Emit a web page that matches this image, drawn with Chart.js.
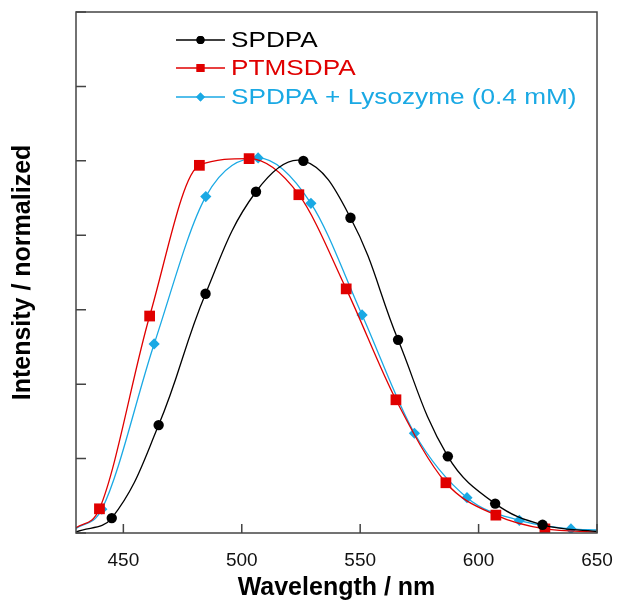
<!DOCTYPE html>
<html>
<head>
<meta charset="utf-8">
<script src="https://cdn.jsdelivr.net/npm/chart.js@4.4.1/dist/chart.umd.min.js"></script>
<style>
  html, body { margin: 0; padding: 0; background: #fff; }
  #wrap { width: 619px; height: 606px; }
</style>
</head>
<body>
<div id="wrap"><canvas id="myChart" width="619" height="606"></canvas></div>
<script>
/* data (first and last point = curve at the plot edges) */
var spdpaX = [430, 445.1, 464.9, 484.7, 506.0, 526.0, 545.9, 566.0, 587.0, 607.0, 627.0, 650];
var spdpaY = [0.003, 0.040, 0.290, 0.643, 0.917, 1.000, 0.847, 0.519, 0.206, 0.079, 0.022, 0.004];

var ptmsX = [430, 439.9, 461.1, 482.1, 503.1, 524.1, 544.1, 565.1, 586.2, 607.3, 628.0, 650];
var ptmsY = [0.014, 0.065, 0.583, 0.988, 1.006, 0.909, 0.656, 0.358, 0.135, 0.048, 0.011, 0.003];

var lysoX = [430, 440.9, 463.0, 484.8, 506.9, 529.2, 550.8, 572.9, 595.1, 617.2, 639.0, 650];
var lysoY = [0.012, 0.064, 0.508, 0.904, 1.008, 0.886, 0.586, 0.268, 0.095, 0.034, 0.011, 0.008];

var xTicks = [450, 500, 550, 600, 650];
var yTicks = [0, 0.2, 0.4, 0.6, 0.8, 1.0, 1.2, 1.4];

var seriesNames = ['SPDPA', 'PTMSDPA', 'SPDPA + Lysozyme (0.4 mM)'];
var seriesColors = ['#000000', '#e00000', '#1aa9e4'];
var seriesStyles = ['circle', 'rect', 'rectRot'];
var seriesCurve = ['default', 'monotone', 'monotone'];
var markerSizes = [5.2, 7.6, 5.6];
var legendSizes = [4, 5.6, 4.4];

var FONT = "'Liberation Sans', Arial, Helvetica, sans-serif";

function toPoints(xs, ys) {
  return xs.map(function (x, i) { return { x: x, y: ys[i] }; });
}

function makeSet(i, xs, ys) {
  var last = xs.length - 1;
  return {
    label: seriesNames[i],
    data: toPoints(xs, ys),
    showLine: true,
    borderColor: seriesColors[i],
    backgroundColor: seriesColors[i],
    borderWidth: 1.3,
    tension: 0.4,
    cubicInterpolationMode: seriesCurve[i],
    pointStyle: seriesStyles[i],
    pointBorderWidth: 0,
    pointRadius: function (c) {
      return (c.dataIndex === 0 || c.dataIndex === last) ? 0 : markerSizes[i];
    },
    pointHoverRadius: 0,
  };
}

// frame + inward ticks
var framePlugin = {
  id: 'frame',
  afterDraw: function (chart) {
    var ctx = chart.ctx;
    var a = chart.chartArea;
    var xs = chart.scales.x;
    var ys = chart.scales.y;
    ctx.save();
    ctx.strokeStyle = '#444';
    ctx.lineWidth = 1.5;
    ctx.strokeRect(a.left, a.top, a.right - a.left, a.bottom - a.top);
    ctx.beginPath();
    xs.ticks.forEach(function (t) {
      var px = xs.getPixelForValue(t.value);
      ctx.moveTo(px, a.bottom);
      ctx.lineTo(px, a.bottom - 9);
    });
    ys.ticks.forEach(function (t) {
      var py = ys.getPixelForValue(t.value);
      ctx.moveTo(a.left, py);
      ctx.lineTo(a.left + 10, py);
    });
    ctx.stroke();
    ctx.restore();
  }
};

// legend drawn inside the plot, line + marker + coloured text (text a bit wide, like the original)
var legendPlugin = {
  id: 'insideLegend',
  afterDraw: function (chart) {
    var ctx = chart.ctx;
    var a = chart.chartArea;
    var rows = [28, 56, 85];
    ctx.save();
    ctx.font = '22px ' + FONT;
    ctx.textBaseline = 'middle';
    seriesNames.forEach(function (name, i) {
      var y = a.top + rows[i];
      var x0 = a.left + 100;
      ctx.strokeStyle = seriesColors[i];
      ctx.lineWidth = 1.3;
      ctx.beginPath();
      ctx.moveTo(x0, y);
      ctx.lineTo(x0 + 49, y);
      ctx.stroke();
      ctx.fillStyle = seriesColors[i];
      Chart.helpers.drawPoint(ctx, {
        pointStyle: seriesStyles[i],
        radius: legendSizes[i],
        rotation: 0,
        borderWidth: 0
      }, x0 + 24.5, y);
      ctx.fill();
      ctx.save();
      ctx.translate(x0 + 55, y + 1);
      ctx.scale(1.19, 1);
      ctx.fillText(name, 0, 0);
      ctx.restore();
    });
    ctx.restore();
  }
};

var ctx = document.getElementById('myChart').getContext('2d');
new Chart(ctx, {
  type: 'scatter',
  data: {
    datasets: [
      makeSet(0, spdpaX, spdpaY),
      makeSet(1, ptmsX, ptmsY),
      makeSet(2, lysoX, lysoY),
    ],
  },
  options: {
    responsive: false,
    animation: false,
    layout: { padding: { top: 12, right: 22, left: 0, bottom: 0 } },
    plugins: {
      legend: { display: false },
      tooltip: { enabled: false },
    },
    scales: {
      x: {
        type: 'linear',
        min: 430,
        max: 650,
        grid: { display: false },
        border: { display: false },
        afterBuildTicks: function (scale) {
          scale.ticks = xTicks.map(function (v) { return { value: v }; });
        },
        afterFit: function (scale) {
          scale.height = 73;
          scale.paddingRight = 0;
          scale.paddingLeft = 0;
        },
        ticks: {
          padding: 8,
          color: '#111',
          font: { family: FONT, size: 19 },
          maxRotation: 0,
        },
        title: {
          display: true,
          text: 'Wavelength / nm',
          color: '#000',
          font: { family: FONT, size: 25, weight: 'bold' },
          padding: { top: 0, bottom: 3 },
        },
      },
      y: {
        min: 0,
        max: 1.4,
        grid: { display: false },
        border: { display: false },
        afterBuildTicks: function (scale) {
          scale.ticks = yTicks.map(function (v) { return { value: v }; });
        },
        afterFit: function (scale) { scale.width = 76; },
        ticks: { display: false },
        title: {
          display: true,
          text: 'Intensity / normalized',
          color: '#000',
          font: { family: FONT, size: 25, weight: 'bold' },
          padding: { top: 8, bottom: 0 },
        },
      },
    },
  },
  plugins: [framePlugin, legendPlugin],
});
</script>
</body>
</html>
